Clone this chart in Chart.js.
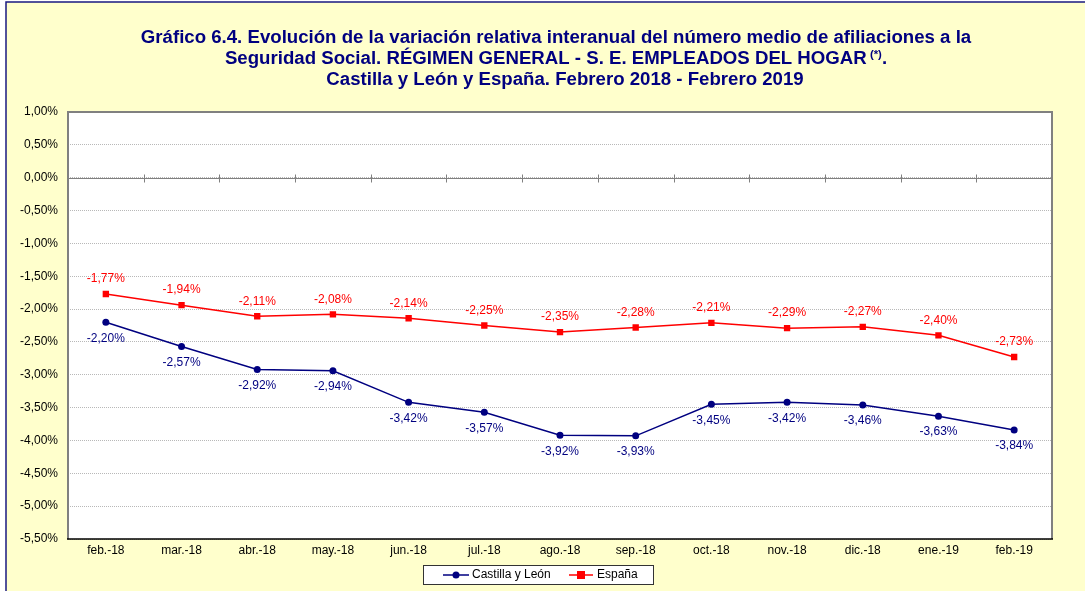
<!DOCTYPE html>
<html>
<head>
<meta charset="utf-8">
<script src="https://cdn.jsdelivr.net/npm/chart.js@4.4.1/dist/chart.umd.min.js"></script>
<style>
html,body{margin:0;padding:0;background:#ffffff;}
#wrap{position:relative;width:1085px;height:591px;}
</style>
</head>
<body>
<div id="wrap"><canvas id="c" width="1085" height="591"></canvas></div>
<script>
const categories = ['feb.-18','mar.-18','abr.-18','may.-18','jun.-18','jul.-18','ago.-18','sep.-18','oct.-18','nov.-18','dic.-18','ene.-19','feb.-19'];
const castillaLeon = [-2.20,-2.57,-2.92,-2.94,-3.42,-3.57,-3.92,-3.93,-3.45,-3.42,-3.46,-3.63,-3.84];
const espana = [-1.77,-1.94,-2.11,-2.08,-2.14,-2.25,-2.35,-2.28,-2.21,-2.29,-2.27,-2.40,-2.73];
const seriesNames = ['Castilla y León','España'];
const yMin = -5.5, yMax = 1.0, yStep = 0.5;
const titleLines = [
  'Gráfico 6.4. Evolución de la variación relativa interanual del número medio de afiliaciones a la',
  'Seguridad Social. RÉGIMEN GENERAL - S. E. EMPLEADOS DEL HOGAR',
  'Castilla y León y España. Febrero 2018 - Febrero 2019'
];

const FONT = '"Liberation Sans", Arial, sans-serif';
const NAVY = '#000080';
const RED = '#FF0000';
const SMALL = 12;
const fmt = v => v.toFixed(2).replace('.', ',') + '%';

function stretchedText(ctx, text, x, y, sx) {
  ctx.save();
  ctx.translate(x, y);
  ctx.scale(sx, 1);
  ctx.fillText(text, 0, 0);
  ctx.restore();
}

const decor = {
  id: 'decor',
  beforeDraw(chart) {
    const ctx = chart.ctx;
    const a = chart.chartArea;
    ctx.save();
    ctx.fillStyle = '#ffffff';
    ctx.fillRect(0, 0, chart.width, chart.height);
    ctx.fillStyle = '#FFFFCC';
    ctx.fillRect(6, 2, chart.width + 20, chart.height + 20);
    ctx.strokeStyle = '#1a1a80';
    ctx.lineWidth = 1.5;
    ctx.strokeRect(6, 2, chart.width + 20, chart.height + 20);
    ctx.fillStyle = '#ffffff';
    ctx.fillRect(a.left, a.top, a.right - a.left, a.bottom - a.top);
    // title
    const SX = 1.035;
    const TF = 'bold 18px ' + FONT;
    const SF = 'bold 11px ' + FONT;
    ctx.fillStyle = NAVY;
    ctx.textBaseline = 'middle';
    ctx.textAlign = 'center';
    ctx.font = TF;
    const cx = 556;
    stretchedText(ctx, titleLines[0], cx, 38, SX);
    // line 2 with superscript
    ctx.textAlign = 'left';
    const l2 = titleLines[1];
    ctx.font = TF;
    const w2 = ctx.measureText(l2).width * SX;
    const wd = ctx.measureText('.').width * SX;
    ctx.font = SF;
    const sup = ' (*)';
    const ws = ctx.measureText(sup).width * SX;
    const x0 = cx - (w2 + ws + wd) / 2;
    ctx.font = TF;
    stretchedText(ctx, l2, x0, 59, SX);
    ctx.font = SF;
    stretchedText(ctx, sup, x0 + w2, 55, SX);
    ctx.font = TF;
    stretchedText(ctx, '.', x0 + w2 + ws, 59, SX);
    ctx.textAlign = 'center';
    stretchedText(ctx, titleLines[2], 565, 80, SX);
    ctx.restore();
  },
  beforeDatasetsDraw(chart) {
    const ctx = chart.ctx;
    const a = chart.chartArea;
    const xs = chart.scales.x, ys = chart.scales.y;
    ctx.save();
    // zero line with tick marks between categories
    const y0 = Math.round(ys.getPixelForValue(0)) + 0.5;
    ctx.strokeStyle = '#808080';
    ctx.lineWidth = 1;
    ctx.beginPath();
    ctx.moveTo(a.left, y0); ctx.lineTo(a.right, y0);
    for (let i = 0; i < categories.length - 1; i++) {
      const tx = Math.round((xs.getPixelForValue(i) + xs.getPixelForValue(i + 1)) / 2) + 0.5;
      ctx.moveTo(tx, y0 - 4); ctx.lineTo(tx, y0 + 4);
    }
    ctx.stroke();
    // frame
    ctx.strokeStyle = '#808080';
    ctx.lineWidth = 2;
    ctx.beginPath();
    ctx.moveTo(a.left, a.bottom); ctx.lineTo(a.left, a.top); ctx.lineTo(a.right, a.top); ctx.lineTo(a.right, a.bottom);
    ctx.stroke();
    ctx.strokeStyle = '#000000';
    ctx.lineWidth = 1.5;
    ctx.beginPath();
    ctx.moveTo(a.left - 1, a.bottom); ctx.lineTo(a.right + 1, a.bottom);
    ctx.stroke();
    ctx.restore();
  },
  afterDatasetsDraw(chart) {
    const ctx = chart.ctx;
    ctx.save();
    ctx.font = SMALL + 'px ' + FONT;
    ctx.textAlign = 'center';
    ctx.textBaseline = 'middle';
    chart.data.datasets.forEach((ds, di) => {
      const meta = chart.getDatasetMeta(di);
      meta.data.forEach((pt, i) => {
        ctx.fillStyle = di === 0 ? NAVY : RED;
        const dy = di === 0 ? 16 : -15;
        ctx.fillText(fmt(ds.data[i]), pt.x, pt.y + dy);
      });
    });
    ctx.restore();
  },
  afterDraw(chart) {
    const ctx = chart.ctx;
    ctx.save();
    // legend
    const bx = 423, by = 565, bw = 230, bh = 19;
    ctx.fillStyle = '#ffffff';
    ctx.fillRect(bx, by, bw, bh);
    ctx.strokeStyle = '#333333';
    ctx.lineWidth = 1;
    ctx.strokeRect(bx + 0.5, by + 0.5, bw, bh);
    const cy = by + bh / 2 + 0.5;
    ctx.font = SMALL + 'px ' + FONT;
    ctx.textBaseline = 'middle';
    ctx.textAlign = 'left';
    // series 1
    ctx.strokeStyle = NAVY; ctx.lineWidth = 1.5;
    ctx.beginPath(); ctx.moveTo(443, cy); ctx.lineTo(469, cy); ctx.stroke();
    ctx.fillStyle = NAVY;
    ctx.beginPath(); ctx.arc(456, cy, 3.5, 0, Math.PI * 2); ctx.fill();
    ctx.fillStyle = '#000000';
    ctx.fillText(seriesNames[0], 472, cy);
    // series 2
    ctx.strokeStyle = RED;
    ctx.beginPath(); ctx.moveTo(569, cy); ctx.lineTo(593, cy); ctx.stroke();
    ctx.fillStyle = RED;
    ctx.fillRect(577, cy - 4, 8, 8);
    ctx.fillStyle = '#000000';
    ctx.fillText(seriesNames[1], 597, cy);
    ctx.restore();
  }
};

new Chart(document.getElementById('c'), {
  type: 'line',
  data: {
    labels: categories,
    datasets: [
      {
        label: seriesNames[0],
        data: castillaLeon,
        borderColor: NAVY,
        backgroundColor: NAVY,
        borderWidth: 1.5,
        pointStyle: 'circle',
        pointRadius: 3.5,
        pointHoverRadius: 3.5,
        pointBorderWidth: 0,
        tension: 0
      },
      {
        label: seriesNames[1],
        data: espana,
        borderColor: RED,
        backgroundColor: RED,
        borderWidth: 1.5,
        pointStyle: 'rect',
        pointRadius: 4.5,
        pointHoverRadius: 4.5,
        pointBorderWidth: 0,
        tension: 0
      }
    ]
  },
  options: {
    responsive: false,
    animation: false,
    devicePixelRatio: 1,
    layout: { padding: { left: 0, top: 112, right: 33, bottom: 0 } },
    plugins: {
      legend: { display: false },
      title: { display: false },
      tooltip: { enabled: false }
    },
    scales: {
      x: {
        type: 'category',
        offset: true,
        grid: { display: false, drawTicks: false },
        border: { display: false },
        ticks: { color: '#000000', font: { family: FONT, size: SMALL }, padding: 4, maxRotation: 0, autoSkip: false },
        afterFit(s) { s.height = 52; }
      },
      y: {
        min: yMin,
        max: yMax,
        grid: { color: '#b8b8b8', lineWidth: 1, drawTicks: false },
        border: { display: false, dash: [1, 1] },
        ticks: {
          stepSize: yStep,
          color: '#000000',
          font: { family: FONT, size: SMALL },
          padding: 10,
          callback: v => fmt(v)
        },
        afterFit(s) { s.width = 68; }
      }
    }
  },
  plugins: [decor]
});
</script>
</body>
</html>
